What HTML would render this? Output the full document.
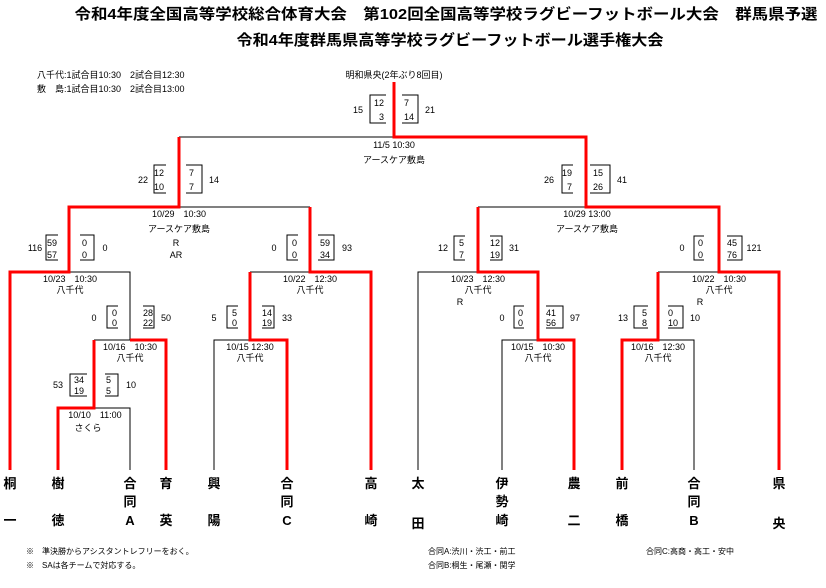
<!DOCTYPE html>
<html><head><meta charset="utf-8"><style>
html,body{margin:0;padding:0;background:#fff;}
svg{display:block;font-family:"Liberation Sans","Noto Sans CJK JP",sans-serif;}
.s{font-size:9px;}
.n{font-size:13px;font-weight:bold;}
</style></head><body>
<svg width="826" height="588" viewBox="0 0 826 588">
<text x="446" y="19" font-size="15" font-weight="bold" text-anchor="middle" textLength="743" lengthAdjust="spacingAndGlyphs">令和4年度全国高等学校総合体育大会　第102回全国高等学校ラグビーフットボール大会　群馬県予選</text>
<text x="450" y="45" font-size="15" font-weight="bold" text-anchor="middle" textLength="427" lengthAdjust="spacingAndGlyphs">令和4年度群馬県高等学校ラグビーフットボール選手権大会</text>
<g class="s">
<text x="37" y="78">八千代:1試合目10:30　2試合目12:30</text>
<text x="37" y="92">敷　島:1試合目10:30　2試合目13:00</text>
<text x="394" y="78" text-anchor="middle">明和県央(2年ぶり8回目)</text>
<text x="394" y="148" text-anchor="middle">11/5 10:30</text>
<text x="394" y="163" text-anchor="middle">アースケア敷島</text>
<text x="179" y="217" text-anchor="middle">10/29　10:30</text>
<text x="179" y="232" text-anchor="middle">アースケア敷島</text>
<text x="176" y="246" text-anchor="middle">R</text>
<text x="176" y="258" text-anchor="middle">AR</text>
<text x="587" y="217" text-anchor="middle">10/29 13:00</text>
<text x="587" y="232" text-anchor="middle">アースケア敷島</text>
<text x="70" y="282" text-anchor="middle">10/23　10:30</text>
<text x="70" y="293" text-anchor="middle">八千代</text>
<text x="310" y="282" text-anchor="middle">10/22　12:30</text>
<text x="310" y="293" text-anchor="middle">八千代</text>
<text x="478" y="282" text-anchor="middle">10/23　12:30</text>
<text x="478" y="293" text-anchor="middle">八千代</text>
<text x="460" y="305" text-anchor="middle">R</text>
<text x="719" y="282" text-anchor="middle">10/22　10:30</text>
<text x="719" y="293" text-anchor="middle">八千代</text>
<text x="700" y="305" text-anchor="middle">R</text>
<text x="130" y="350" text-anchor="middle">10/16　10:30</text>
<text x="130" y="361" text-anchor="middle">八千代</text>
<text x="250" y="350" text-anchor="middle">10/15 12:30</text>
<text x="250" y="361" text-anchor="middle">八千代</text>
<text x="538" y="350" text-anchor="middle">10/15　10:30</text>
<text x="538" y="361" text-anchor="middle">八千代</text>
<text x="658" y="350" text-anchor="middle">10/16　12:30</text>
<text x="658" y="361" text-anchor="middle">八千代</text>
<text x="95" y="418" text-anchor="middle">10/10　11:00</text>
<text x="88" y="431" text-anchor="middle">さくら</text>
</g>
<!-- score boxes -->
<g fill="none" stroke="#000" stroke-width="1">
<polyline points="386,95 370,95 370,123 386,123"/><polyline points="402,95 418,95 418,123 402,123"/>
<polyline points="166,165 154,165 154,193 166,193"/><polyline points="186,165 202,165 202,193 186,193"/>
<polyline points="58,235 46,235 46,260 58,260"/><polyline points="80,235 94,235 94,260 80,260"/>
<polyline points="298,235 287,235 287,260 298,260"/><polyline points="318,235 334,235 334,260 318,260"/>
<polyline points="118,306 107,306 107,328 118,328"/><polyline points="143,306 154,306 154,328 143,328"/>
<polyline points="87,374 70,374 70,396 87,396"/><polyline points="105,374 118,374 118,396 105,396"/>
<polyline points="238,306 227,306 227,328 238,328"/><polyline points="262,306 274,306 274,328 262,328"/>
<polyline points="573,165 562,165 562,193 573,193"/><polyline points="590,165 610,165 610,193 590,193"/>
<polyline points="465,236 454,236 454,260 465,260"/><polyline points="490,236 502,236 502,260 490,260"/>
<polyline points="704,236 694,236 694,260 704,260"/><polyline points="727,236 742,236 742,260 727,260"/>
<polyline points="524,306 514,306 514,328 524,328"/><polyline points="546,306 563,306 563,328 546,328"/>
<polyline points="648,306 634,306 634,328 648,328"/><polyline points="668,306 683,306 683,328 668,328"/>
</g>
<g class="s">
<g text-anchor="end">
<text x="384" y="106">12</text><text x="384" y="120">3</text>
<text x="164" y="176">12</text><text x="164" y="190">10</text>
<text x="57" y="246">59</text><text x="57" y="258">57</text>
<text x="297" y="246">0</text><text x="297" y="258">0</text>
<text x="117" y="316">0</text><text x="117" y="326">0</text>
<text x="84" y="383">34</text><text x="84" y="394">19</text>
<text x="237" y="316">5</text><text x="237" y="326">0</text>
<text x="572" y="176">19</text><text x="572" y="190">7</text>
<text x="464" y="246">5</text><text x="464" y="258">7</text>
<text x="703" y="246">0</text><text x="703" y="258">0</text>
<text x="523" y="316">0</text><text x="523" y="326">0</text>
<text x="647" y="316">5</text><text x="647" y="326">8</text>
</g>
<text x="404" y="106">7</text><text x="404" y="120">14</text>
<text x="189" y="176">7</text><text x="189" y="190">7</text>
<text x="82" y="246">0</text><text x="82" y="258">0</text>
<text x="320" y="246">59</text><text x="320" y="258">34</text>
<text x="143" y="316">28</text><text x="143" y="326">22</text>
<text x="106" y="383">5</text><text x="106" y="394">5</text>
<text x="262" y="316">14</text><text x="262" y="326">19</text>
<text x="593" y="176">15</text><text x="593" y="190">26</text>
<text x="490" y="246">12</text><text x="490" y="258">19</text>
<text x="727" y="246">45</text><text x="727" y="258">76</text>
<text x="546" y="316">41</text><text x="546" y="326">56</text>
<text x="668" y="316">0</text><text x="668" y="326">10</text>
<g text-anchor="middle">
<text x="358" y="113">15</text><text x="430" y="113">21</text>
<text x="143" y="183">22</text><text x="214" y="183">14</text>
<text x="35" y="251">116</text><text x="105" y="251">0</text>
<text x="274" y="251">0</text><text x="347" y="251">93</text>
<text x="94" y="321">0</text><text x="166" y="321">50</text>
<text x="58" y="388">53</text><text x="131" y="388">10</text>
<text x="214" y="321">5</text><text x="287" y="321">33</text>
<text x="549" y="183">26</text><text x="622" y="183">41</text>
<text x="443" y="251">12</text><text x="514" y="251">31</text>
<text x="682" y="251">0</text><text x="754" y="251">121</text>
<text x="502" y="321">0</text><text x="575" y="321">97</text>
<text x="623" y="321">13</text><text x="695" y="321">10</text>
</g>
</g>
<!-- black lines -->
<g fill="none" stroke="#000" stroke-width="1">
<path d="M179,137H394M179,207H310M69,272H130V340M94,340H130M94,408H130V470M214,470V340H250M250,272H310M478,207H586M418,470V272H478M502,470V340H538M658,272H719M658,340H694V470"/>
</g>
<!-- red lines -->
<g fill="none" stroke="#f00" stroke-width="3" stroke-linejoin="miter">
<polyline points="394,82 394,137 586,137 586,207 719,207 719,272 779,272 779,470"/>
<polyline points="179,137 179,207 69,207 69,272 10,272 10,470"/>
<polyline points="310,207 310,272 371,272 371,470"/>
<polyline points="130,340 166,340 166,470"/>
<polyline points="94,340 94,408 58,408 58,470"/>
<polyline points="250,272 250,340 287,340 287,470"/>
<polyline points="478,207 478,272 538,272 538,340 574,340 574,470"/>
<polyline points="658,272 658,340 622,340 622,470"/>
</g>
<!-- team names -->
<g class="n" text-anchor="middle">
<text x="10" y="488">桐</text><text x="10" y="525">一</text>
<text x="58" y="488">樹</text><text x="58" y="525">徳</text>
<text x="130" y="488">合</text><text x="130" y="506">同</text><text x="130" y="525">A</text>
<text x="166" y="488">育</text><text x="166" y="525">英</text>
<text x="214" y="488">興</text><text x="214" y="525">陽</text>
<text x="287" y="488">合</text><text x="287" y="506">同</text><text x="287" y="525">C</text>
<text x="371" y="488">高</text><text x="371" y="525">崎</text>
<text x="418" y="488">太</text><text x="418" y="528">田</text>
<text x="502" y="488">伊</text><text x="502" y="506">勢</text><text x="502" y="525">崎</text>
<text x="574" y="488">農</text><text x="574" y="525">二</text>
<text x="622" y="488">前</text><text x="622" y="525">橋</text>
<text x="694" y="488">合</text><text x="694" y="506">同</text><text x="694" y="525">B</text>
<text x="779" y="488">県</text><text x="779" y="528">央</text>
</g>
<g style="font-size:8px">
<text x="26" y="554">※　準決勝からアシスタントレフリーをおく。</text>
<text x="26" y="568">※　SAは各チームで対応する。</text>
<text x="428" y="554">合同A:渋川・渋工・前工</text>
<text x="428" y="568">合同B:桐生・尾瀬・関学</text>
<text x="646" y="554">合同C:高商・高工・安中</text>
</g>
</svg>
</body></html>
